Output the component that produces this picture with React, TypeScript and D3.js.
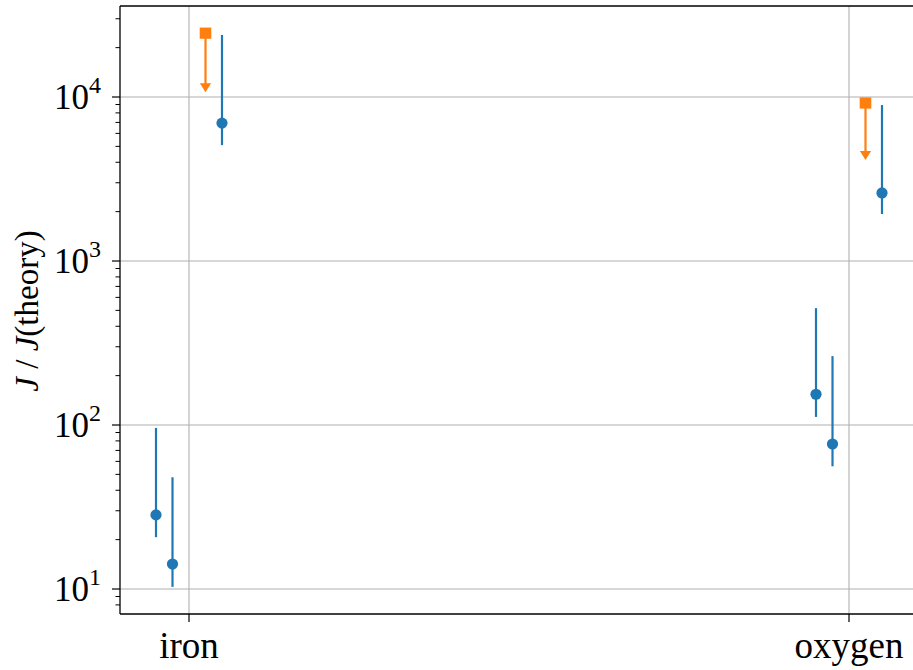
import React from "react";
import * as d3 from "d3";

const categories = ["iron", "oxygen"];
const catIndex = [0, 1];

// blue series: offsets within category, values and error ranges
const blueOffsets = [-0.05, -0.025, 0.05];
const blueValues = [
  [28.3, 154],
  [14.2, 76.6],
  [6930, 2600],
];
const blueLow = [
  [20.7, 112],
  [10.3, 56],
  [5090, 1935],
];
const blueHigh = [
  [96, 516],
  [48, 263],
  [23900, 8930],
];

// orange upper limits
const limitOffset = 0.025;
const limitValues = [24500, 9190];
const limitArrowTo = [10700, 4130];

const yTicks = [10, 100, 1000, 10000];
const yTickExp = ["1", "2", "3", "4"];

const W = 913;
const H = 670;
const left = 120;
const top = 6;
const bottom = 614;

const BLUE = "#1f77b4";
const ORANGE = "#ff7f0e";
const FONT = "'Liberation Serif', 'DejaVu Serif', serif";

export default function App() {
  const x = d3.scaleLinear().domain([-0.105, 1.105]).range([119.7, 918.3]);
  const y = d3
    .scaleLog()
    .domain([Math.pow(10, 0.8476), Math.pow(10, 4.5549)])
    .range([bottom, top]);

  const minor: number[] = [];
  for (let e = 0; e <= 4; e++) {
    for (let k = 2; k <= 9; k++) {
      const v = k * Math.pow(10, e);
      const py = y(v);
      if (py >= top && py <= bottom) minor.push(v);
    }
  }

  return (
    <svg
      width={W}
      height={H}
      style={{ position: "absolute", left: 0, top: 0, background: "#fff" }}
    >
      <rect x={0} y={0} width={W} height={H} fill="#fff" />
      {/* grid */}
      {yTicks.map((t) => (
        <line key={"gy" + t} x1={left} x2={W} y1={y(t)} y2={y(t)} stroke="#b0b0b0" strokeWidth={1.1} />
      ))}
      {catIndex.map((c) => (
        <line key={"gx" + c} x1={x(c)} x2={x(c)} y1={top} y2={bottom} stroke="#b0b0b0" strokeWidth={1.1} />
      ))}

      {/* blue error bars */}
      {blueOffsets.map((off, s) =>
        catIndex.map((c) => (
          <g key={"b" + s + "-" + c}>
            <line
              x1={x(c + off)}
              x2={x(c + off)}
              y1={y(blueLow[s][c])}
              y2={y(blueHigh[s][c])}
              stroke={BLUE}
              strokeWidth={2.2}
            />
            <circle cx={x(c + off)} cy={y(blueValues[s][c])} r={5.6} fill={BLUE} />
          </g>
        ))
      )}

      {/* orange upper limits */}
      {catIndex.map((c) => {
        const px = x(c + limitOffset);
        const py = y(limitValues[c]);
        const tip = y(limitArrowTo[c]);
        return (
          <g key={"o" + c}>
            <line x1={px} x2={px} y1={py} y2={tip - 6} stroke={ORANGE} strokeWidth={2.2} />
            <path
              d={`M${px - 5.6},${tip - 9} L${px + 5.6},${tip - 9} L${px},${tip} Z`}
              fill={ORANGE}
            />
            <rect x={px - 5.8} y={py - 5.6} width={11.6} height={11.2} fill={ORANGE} />
          </g>
        );
      })}

      {/* spines */}
      <line x1={left} x2={left} y1={top} y2={bottom} stroke="#000" strokeWidth={1.3} />
      <line x1={left} x2={W} y1={top} y2={top} stroke="#000" strokeWidth={1.3} />
      <line x1={left} x2={W} y1={bottom} y2={bottom} stroke="#000" strokeWidth={1.3} />

      {/* y ticks */}
      {yTicks.map((t, i) => (
        <g key={"yt" + t}>
          <line x1={left - 8} x2={left} y1={y(t)} y2={y(t)} stroke="#000" strokeWidth={1.2} />
          <text
            x={101}
            y={y(t) + 12}
            textAnchor="end"
            fontFamily={FONT}
            fontSize={35}
            fill="#000"
          >
            10
            <tspan dy={-16} fontSize={24}>
              {yTickExp[i]}
            </tspan>
          </text>
        </g>
      ))}
      {minor.map((v) => (
        <line key={"mt" + v} x1={left - 4.5} x2={left} y1={y(v)} y2={y(v)} stroke="#000" strokeWidth={1} />
      ))}

      {/* x ticks */}
      {catIndex.map((c) => (
        <g key={"xt" + c}>
          <line x1={x(c)} x2={x(c)} y1={bottom} y2={bottom + 8} stroke="#000" strokeWidth={1.2} />
          <text x={x(c)} y={bottom + 44} textAnchor="middle" fontFamily={FONT} fontSize={37} fill="#000">
            {categories[c]}
          </text>
        </g>
      ))}

      {/* y label */}
      <text
        transform={`translate(38, 311) rotate(-90)`}
        textAnchor="middle"
        fontFamily={FONT}
        fontSize={33}
        fill="#000"
      >
        <tspan fontStyle="italic">J</tspan>
        {" / "}
        <tspan fontStyle="italic">J</tspan>
        (theory)
      </text>
    </svg>
  );
}
